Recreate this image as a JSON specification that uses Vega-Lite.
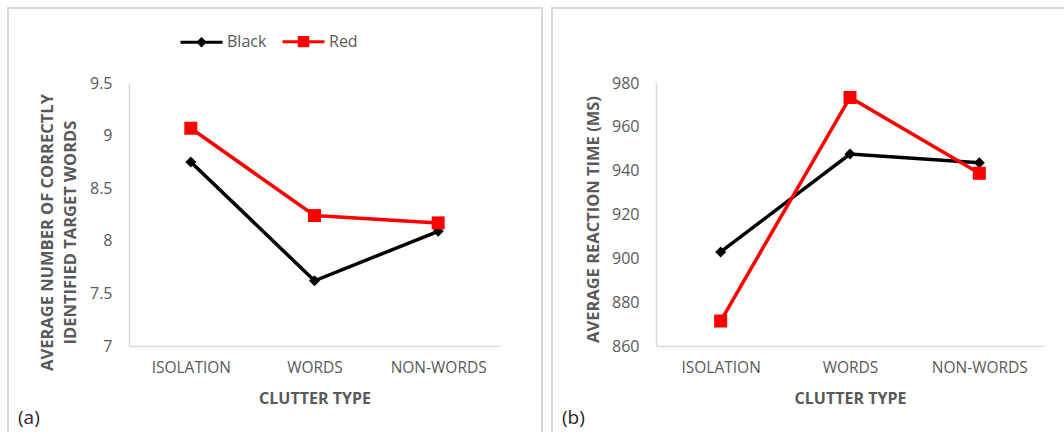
{
  "$schema": "https://vega.github.io/schema/vega-lite/v6.json",
  "padding": {"left": 7, "top": 7, "right": 0, "bottom": 0},
  "background": "white",
  "spacing": 8,
  "config": {
    "view": {"stroke": "#d9d9d9", "strokeWidth": 2},
    "font": "Open Sans",
    "axis": {
      "grid": false,
      "ticks": false,
      "domainColor": "#d9d9d9",
      "domainWidth": 1.5,
      "labelColor": "#595959",
      "titleColor": "#595959",
      "labelFont": "Open Sans",
      "titleFont": "Open Sans"
    },
    "legend": {"labelFont": "Open Sans"}
  },
  "datasets": {
    "a": [
      {"clutter": "ISOLATION", "series": "Black", "value": 8.75},
      {"clutter": "WORDS", "series": "Black", "value": 7.62},
      {"clutter": "NON-WORDS", "series": "Black", "value": 8.09},
      {"clutter": "ISOLATION", "series": "Red", "value": 9.07},
      {"clutter": "WORDS", "series": "Red", "value": 8.24},
      {"clutter": "NON-WORDS", "series": "Red", "value": 8.17}
    ],
    "b": [
      {"clutter": "ISOLATION", "series": "Black", "value": 902.9},
      {"clutter": "WORDS", "series": "Black", "value": 947.6},
      {"clutter": "NON-WORDS", "series": "Black", "value": 943.6},
      {"clutter": "ISOLATION", "series": "Red", "value": 871.4},
      {"clutter": "WORDS", "series": "Red", "value": 973.4},
      {"clutter": "NON-WORDS", "series": "Red", "value": 938.8}
    ]
  },
  "hconcat": [
    {
      "width": 534,
      "height": 430,
      "data": {"name": "a"},
      "title": {"text": "(a)", "orient": "bottom", "anchor": "start", "frame": "group", "offset": -29, "dx": 10, "fontSize": 19, "fontWeight": "normal", "color": "#262626", "font": "Open Sans"},
      "encoding": {
        "x": {
          "field": "clutter", "type": "nominal", "sort": ["ISOLATION", "WORDS", "NON-WORDS"],
          "scale": {"type": "point", "range": [121, 492], "padding": 0.5},
          "axis": {"title": "CLUTTER TYPE", "labelAngle": 0, "offset": -92, "labelPadding": 14, "labelFontSize": 15.5, "titleFontSize": 16, "titleFontWeight": "bold", "titlePadding": 15}
        },
        "y": {
          "field": "value", "type": "quantitative",
          "scale": {"domain": [7, 9.5], "range": [338, 75], "nice": false, "zero": false},
          "axis": {"title": ["AVERAGE NUMBER OF CORRECTLY", "IDENTIFIED TARGET WORDS"], "values": [7, 7.5, 8, 8.5, 9, 9.5], "format": "~g", "offset": -121, "labelPadding": 17, "labelFontSize": 16, "titleFontSize": 16.5, "titleFontWeight": "bold", "titleLineHeight": 23, "titlePadding": 11, "titleY": 224}
        },
        "color": {
          "field": "series", "type": "nominal",
          "scale": {"domain": ["Black", "Red"], "range": ["#000000", "#ff0000"]},
          "legend": {
            "orient": "none", "legendX": 171, "legendY": 11, "direction": "horizontal", "title": null,
            "labelFontSize": 16, "labelColor": "#595959", "labelOffset": 3, "columnPadding": 9, "symbolSize": 1764,
            "encode": {"symbols": {"update": {
              "shape": {"signal": "datum.value === 'Black' ? 'M-1,0H1M0,-0.15L0.15,0L0,0.15L-0.15,0Z' : 'M-1,0H1M-0.2,-0.2H0.2V0.2H-0.2Z'"},
              "fill": {"signal": "datum.value === 'Black' ? '#000000' : '#ff0000'"},
              "stroke": {"signal": "datum.value === 'Black' ? '#000000' : '#ff0000'"},
              "strokeWidth": {"value": 3},
              "opacity": {"value": 1}
            }}}
          }
        }
      },
      "layer": [
        {"mark": {"type": "line", "strokeWidth": 3.5}},
        {
          "transform": [{"filter": "datum.series === 'Black'"}],
          "mark": {"type": "point", "filled": true, "opacity": 1, "shape": "diamond", "size": 121}
        },
        {
          "transform": [{"filter": "datum.series === 'Red'"}],
          "mark": {"type": "point", "filled": true, "opacity": 1, "shape": "square", "size": 169}
        }
      ]
    },
    {
      "width": 520,
      "height": 430,
      "data": {"name": "b"},
      "title": {"text": "(b)", "orient": "bottom", "anchor": "start", "frame": "group", "offset": -29, "dx": 10, "fontSize": 19, "fontWeight": "normal", "color": "#262626", "font": "Open Sans"},
      "encoding": {
        "x": {
          "field": "clutter", "type": "nominal", "sort": ["ISOLATION", "WORDS", "NON-WORDS"],
          "scale": {"type": "point", "range": [104, 492], "padding": 0.5},
          "axis": {"title": "CLUTTER TYPE", "labelAngle": 0, "offset": -92, "labelPadding": 14, "labelFontSize": 15.5, "titleFontSize": 16, "titleFontWeight": "bold", "titlePadding": 15}
        },
        "y": {
          "field": "value", "type": "quantitative",
          "scale": {"domain": [860, 980], "range": [338, 75], "nice": false, "zero": false},
          "axis": {"title": "AVERAGE REACTION TIME (MS)", "values": [860, 880, 900, 920, 940, 960, 980], "offset": -104, "labelPadding": 17, "labelFontSize": 16, "titleFontSize": 16.5, "titleFontWeight": "bold", "titlePadding": 10, "titleY": 211}
        },
        "color": {
          "field": "series", "type": "nominal",
          "scale": {"domain": ["Black", "Red"], "range": ["#000000", "#ff0000"]},
          "legend": {
            "orient": "none", "legendX": 168, "legendY": 10, "direction": "horizontal", "title": null,
            "labelFontSize": 16, "labelColor": "#595959", "labelOffset": 3, "columnPadding": 9, "symbolSize": 1764,
            "encode": {"symbols": {"update": {
              "shape": {"signal": "datum.value === 'Black' ? 'M-1,0H1M0,-0.15L0.15,0L0,0.15L-0.15,0Z' : 'M-1,0H1M-0.2,-0.2H0.2V0.2H-0.2Z'"},
              "fill": {"signal": "datum.value === 'Black' ? '#000000' : '#ff0000'"},
              "stroke": {"signal": "datum.value === 'Black' ? '#000000' : '#ff0000'"},
              "strokeWidth": {"value": 3},
              "opacity": {"value": 1}
            }}}
          }
        }
      },
      "layer": [
        {"mark": {"type": "line", "strokeWidth": 3.5}},
        {
          "transform": [{"filter": "datum.series === 'Black'"}],
          "mark": {"type": "point", "filled": true, "opacity": 1, "shape": "diamond", "size": 121}
        },
        {
          "transform": [{"filter": "datum.series === 'Red'"}],
          "mark": {"type": "point", "filled": true, "opacity": 1, "shape": "square", "size": 169}
        }
      ]
    }
  ]
}
